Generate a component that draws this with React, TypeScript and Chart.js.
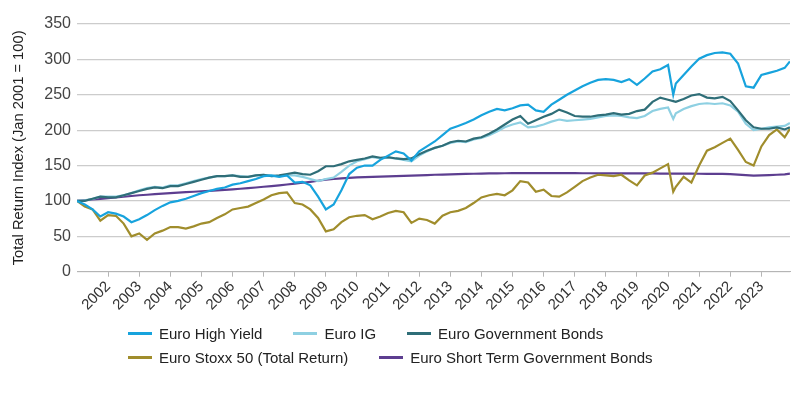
import React, { useEffect, useRef } from "react";
import { Chart, registerables } from "chart.js";

Chart.register(...registerables);

const FONT = "'Liberation Sans', Arial, Helvetica, sans-serif";

// Observation dates (quarterly, with an extra point in March 2020 and the final month)
const dates = [
  "2001-01", "2001-04", "2001-07", "2001-10",
  "2002-01", "2002-04", "2002-07", "2002-10",
  "2003-01", "2003-04", "2003-07", "2003-10",
  "2004-01", "2004-04", "2004-07", "2004-10",
  "2005-01", "2005-04", "2005-07", "2005-10",
  "2006-01", "2006-04", "2006-07", "2006-10",
  "2007-01", "2007-04", "2007-07", "2007-10",
  "2008-01", "2008-04", "2008-07", "2008-10",
  "2009-01", "2009-04", "2009-07", "2009-10",
  "2010-01", "2010-04", "2010-07", "2010-10",
  "2011-01", "2011-04", "2011-07", "2011-10",
  "2012-01", "2012-04", "2012-07", "2012-10",
  "2013-01", "2013-04", "2013-07", "2013-10",
  "2014-01", "2014-04", "2014-07", "2014-10",
  "2015-01", "2015-04", "2015-07", "2015-10",
  "2016-01", "2016-04", "2016-07", "2016-10",
  "2017-01", "2017-04", "2017-07", "2017-10",
  "2018-01", "2018-04", "2018-07", "2018-10",
  "2019-01", "2019-04", "2019-07", "2019-10",
  "2020-01", "2020-03", "2020-04", "2020-07", "2020-10",
  "2021-01", "2021-04", "2021-07", "2021-10",
  "2022-01", "2022-04", "2022-07", "2022-10",
  "2023-01", "2023-04", "2023-07", "2023-10", "2023-12",
];

const euroHighYield = [
  100, 95, 88, 78,
  84, 82, 78, 70,
  74, 80, 87, 93,
  98, 100, 103, 107,
  111, 114, 117, 119,
  123, 125, 128, 131,
  135, 136, 134, 136,
  126, 127, 122, 106,
  88, 95, 115, 138,
  147, 150, 150, 158,
  164, 170, 167, 157,
  170, 177, 184, 193,
  202, 206, 210, 215,
  221, 226, 230, 228,
  231, 235, 236, 228,
  226, 236, 243, 250,
  256, 262, 267, 271,
  272, 271, 268, 272,
  264, 273, 283, 286,
  292, 250, 266, 278, 290,
  301, 306, 309, 310,
  308, 294, 262, 260,
  278, 281, 284, 288, 297,
];

const euroIG = [
  100, 101, 103, 106,
  106, 106, 108, 111,
  115, 118, 120, 119,
  122, 122, 125, 128,
  131, 133, 135, 135,
  136, 135, 134, 136,
  137, 135, 135, 136,
  136, 134, 131, 128,
  131, 133, 141, 150,
  156, 159, 162, 160,
  161, 160, 158, 156,
  164, 170, 175, 178,
  182, 184, 183, 187,
  189, 193, 198, 204,
  208, 211, 204, 205,
  208, 212, 215, 213,
  214, 215, 216, 218,
  220, 221, 220, 218,
  217, 220, 227, 230,
  232, 216, 224, 230, 234,
  237, 238, 237, 238,
  235, 226, 209, 200,
  202, 204, 205, 206, 210,
];

const euroGovBonds = [
  100, 100, 103, 106,
  105, 105, 108, 111,
  114, 117, 119, 118,
  121, 121, 124, 127,
  130, 133, 135, 135,
  136, 134, 134, 136,
  137, 135, 136, 138,
  140, 138, 137, 142,
  149, 149, 152, 156,
  158, 160, 163, 161,
  162, 160, 159, 160,
  166, 171, 175, 178,
  183, 185, 184, 188,
  190, 195, 201, 208,
  215, 220, 209, 214,
  219, 223, 229, 225,
  220, 219, 219, 221,
  222, 224, 222, 223,
  227, 229, 240, 246,
  243, 241, 240, 244, 249,
  251, 246, 245, 247,
  241, 228, 214, 204,
  202, 202, 204, 201, 204,
];

const euroStoxx50 = [
  100, 92, 88, 72,
  80, 79, 68, 50,
  54, 45, 54, 58,
  63, 63, 61, 64,
  68, 70, 76, 81,
  88, 90, 92, 97,
  102, 108, 111, 112,
  97, 95, 88, 76,
  57, 60, 70, 77,
  79, 80, 74, 78,
  83, 86, 84, 69,
  75, 73, 68, 79,
  84, 86, 90, 97,
  105, 108, 110, 108,
  115, 128, 126, 113,
  116, 107, 106, 112,
  120, 128, 133, 137,
  136, 135, 137, 129,
  122, 136, 140, 146,
  152, 113, 120, 134, 126,
  150, 171, 176, 182,
  188, 172, 155, 150,
  177, 193, 201, 190, 202,
];

const euroShortGovBonds = [
  100, 101, 102, 103,
  104, 105, 106, 107,
  108, 108.7, 109.5, 110.2,
  111, 111.7, 112.4, 113,
  113.7, 114.3, 115, 115.7,
  116.4, 117.2, 118, 119,
  120, 121, 122, 123.2,
  124.5, 125.7, 127, 128.5,
  130, 131, 132, 132.7,
  133.2, 133.6, 134, 134.4,
  134.8, 135.1, 135.4, 135.8,
  136.2, 136.6, 137, 137.3,
  137.6, 137.9, 138.2, 138.4,
  138.6, 138.8, 139, 139.1,
  139.2, 139.3, 139.3, 139.3,
  139.3, 139.3, 139.3, 139.2,
  139.2, 139.1, 139.1, 139,
  139, 138.9, 138.9, 138.8,
  138.8, 138.8, 138.8, 138.7,
  138.7, 138.6, 138.6, 138.6, 138.5,
  138.4, 138.3, 138.2, 138.1,
  137.9, 137.3, 136.5, 135.8,
  136, 136.4, 137, 137.6, 138.5,
];

const yearTicks = [
  2002, 2003, 2004, 2005, 2006, 2007, 2008, 2009, 2010, 2011, 2012,
  2013, 2014, 2015, 2016, 2017, 2018, 2019, 2020, 2021, 2022, 2023,
];
const valueTicks = [0, 50, 100, 150, 200, 250, 300, 350];

const seriesNames = [
  "Euro High Yield",
  "Euro IG",
  "Euro Government Bonds",
  "Euro Stoxx 50 (Total Return)",
  "Euro Short Term Government Bonds",
];
const seriesColors = ["#17a3dd", "#8ed0e2", "#2f6e78", "#a08d2c", "#5d3e90"];
const legendRows = [[0, 1, 2], [3, 4]];

const toYear = (d: string) => Number(d.slice(0, 4)) + (Number(d.slice(5, 7)) - 1) / 12;
const toPoints = (vals: number[]) => vals.map((v, i) => ({ x: toYear(dates[i]), y: v }));

export default function App() {
  const ref = useRef<HTMLCanvasElement | null>(null);

  useEffect(() => {
    if (!ref.current) return;
    Chart.defaults.font.family = FONT;
    const values = [euroHighYield, euroIG, euroGovBonds, euroStoxx50, euroShortGovBonds];
    const drawOrder = [1, 3, 2, 4, 5];
    const chart = new Chart(ref.current, {
      type: "line",
      data: {
        datasets: values.map((vals, i) => ({
          label: seriesNames[i],
          data: toPoints(vals),
          borderColor: seriesColors[i],
          backgroundColor: seriesColors[i],
          borderWidth: 2.2,
          pointRadius: 0,
          tension: 0,
          fill: false,
          order: drawOrder[i],
        })),
      },
      options: {
        responsive: false,
        animation: false,
        events: [],
        layout: { padding: { top: 24, right: 13, left: 0, bottom: 0 } },
        plugins: {
          legend: { display: false },
          tooltip: { enabled: false },
        },
        scales: {
          x: {
            type: "linear",
            min: 2001,
            max: 2023.92,
            afterBuildTicks: (s: any) => {
              s.ticks = yearTicks.map((v) => ({ value: v }));
            },
            afterFit: (s: any) => {
              s.height = 121.3;
            },
            ticks: {
              autoSkip: false,
              minRotation: 45,
              maxRotation: 45,
              padding: 1,
              color: "#333333",
              font: { size: 15, family: FONT },
              callback: (v: any) => String(v),
            },
            grid: {
              display: true,
              drawOnChartArea: false,
              drawTicks: true,
              tickLength: 5,
              color: "#b5b5b5",
            },
            border: { display: true, color: "#b5b5b5" },
          },
          y: {
            min: 0,
            max: 350,
            afterBuildTicks: (s: any) => {
              s.ticks = valueTicks.map((v) => ({ value: v }));
            },
            afterFit: (s: any) => {
              s.width = 77;
            },
            ticks: {
              padding: 6,
              color: "#444444",
              font: { size: 16, family: FONT },
            },
            grid: { color: "#cccccc", lineWidth: 1.3, drawTicks: false },
            border: { display: false },
            title: {
              display: true,
              text: "Total Return Index (Jan 2001 = 100)",
              color: "#222222",
              font: { size: 14.7, family: FONT },
              padding: { top: 10, bottom: 0 },
            },
          },
        },
      },
    });
    return () => chart.destroy();
  }, []);

  return (
    <div style={{ position: "fixed", left: 0, top: 0, width: 803, height: 393, background: "#fff" }}>
      <canvas ref={ref} width={803} height={393} style={{ position: "absolute", left: 0, top: 0 }} />
      <div
        style={{
          position: "absolute",
          left: 128,
          top: 321,
          fontFamily: FONT,
          fontSize: 15,
          color: "#222",
        }}
      >
        {legendRows.map((row, r) => (
          <div key={r} style={{ display: "flex", alignItems: "center", height: 24, whiteSpace: "nowrap" }}>
            {row.map((idx) => (
              <div key={idx} style={{ display: "flex", alignItems: "center", marginRight: 31 }}>
                <span
                  style={{
                    display: "inline-block",
                    width: 24,
                    height: 3,
                    background: seriesColors[idx],
                    marginRight: 7,
                  }}
                />
                <span>{seriesNames[idx]}</span>
              </div>
            ))}
          </div>
        ))}
      </div>
    </div>
  );
}
